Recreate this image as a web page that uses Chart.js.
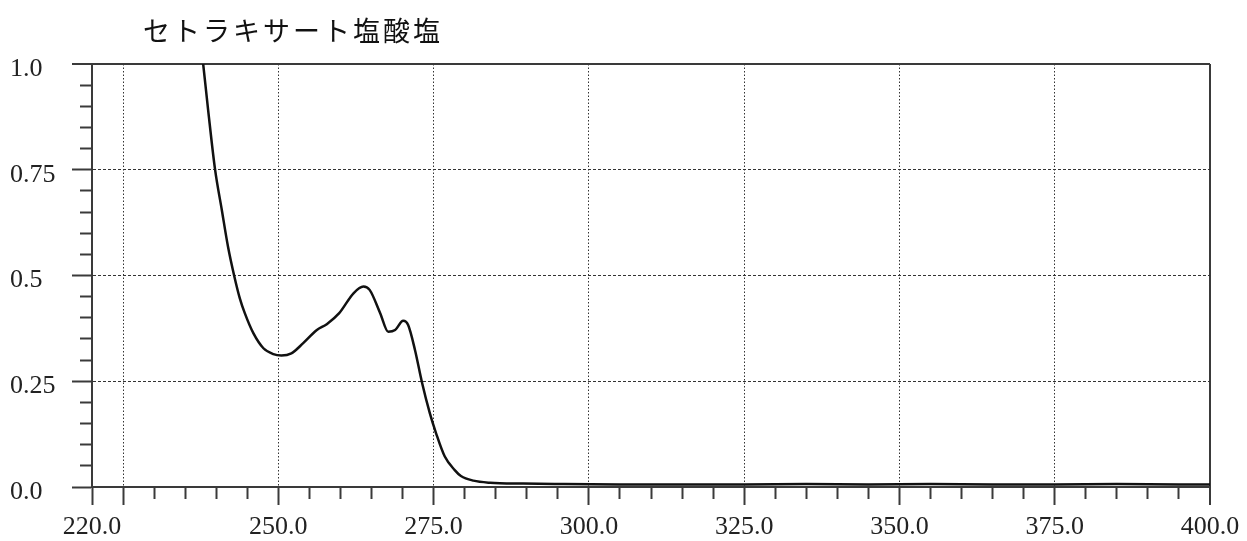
<!DOCTYPE html>
<html>
<head>
<meta charset="utf-8">
<script src="https://cdn.jsdelivr.net/npm/chart.js@4/dist/chart.umd.min.js"></script>
<style>
  body { margin: 0; background: #fff; }
  #wrap { position: relative; width: 1247px; height: 541px; }
  #title {
    position: absolute; left: 143px; top: 12px;
    font-family: "Noto Sans CJK JP", sans-serif; font-size: 27px;
    letter-spacing: 3px; color: #111; line-height: 36px;
  }
</style>
</head>
<body>
<div id="wrap">
  <div id="title">セトラキサート塩酸塩</div>
  <canvas id="chart"></canvas>
</div>
<script>
// absorbance spectrum
const wavelengths = [236, 237, 237.9, 238.7, 239.8, 240.9, 241.9, 242.9, 243.8, 244.6, 246.0, 247.6, 249.2, 250.5,
  252.1, 254.0, 256.2, 257.8, 259.8, 262.1, 263.7, 264.7, 266.4, 267.7, 268.8, 270.1, 270.9, 272.0, 273.1,
  274.4, 275.4, 276.8, 278.4, 279.4, 281.4, 284.1, 289.4, 295, 305, 315, 325, 335, 345, 355, 365, 375, 385, 395, 400];
const absorbance = [1.25, 1.12, 1.0, 0.891, 0.752, 0.655, 0.568, 0.499, 0.446, 0.411, 0.363, 0.328, 0.314, 0.311,
  0.316, 0.340, 0.371, 0.385, 0.411, 0.458, 0.474, 0.466, 0.411, 0.367, 0.371, 0.393, 0.383, 0.324, 0.249,
  0.174, 0.127, 0.072, 0.040, 0.026, 0.015, 0.010, 0.008, 0.007, 0.006, 0.006, 0.006, 0.007, 0.006, 0.007, 0.006, 0.006, 0.007, 0.006, 0.006];

const xLabelValues = [220, 250, 275, 300, 325, 350, 375, 400];
const yLabelValues = [0, 0.25, 0.5, 0.75, 1.0];
const yLabelText = ['0.0', '0.25', '0.5', '0.75', '1.0'];

const AXIS = '#3a3a3a';
const GRID = '#333';
const labelFont = { family: '"Liberation Serif", serif', size: 26 };

const near = (a, b) => Math.abs(a - b) < 1e-6;
const isXGrid = v => v > 220 && near(v / 25, Math.round(v / 25));
const isXMajor = v => near(v, 220) || isXGrid(v);
const isYMajor = v => near(v * 4, Math.round(v * 4));

new Chart(document.getElementById('chart'), {
  type: 'line',
  data: {
    datasets: [{
      data: wavelengths.map((w, i) => ({ x: w, y: absorbance[i] })),
      borderColor: '#111',
      borderWidth: 2.5,
      pointRadius: 0,
      cubicInterpolationMode: 'monotone'
    }]
  },
  options: {
    responsive: true,
    maintainAspectRatio: false,
    animation: false,
    layout: { padding: { top: 64, right: 37, left: 10, bottom: 0 } },
    plugins: { legend: { display: false }, tooltip: { enabled: false } },
    scales: {
      x: {
        type: 'linear', min: 220, max: 400,
        afterFit: s => { s.height = 54; },
        ticks: {
          stepSize: 5, autoSkip: false, maxRotation: 0, padding: 7,
          font: labelFont, color: '#222',
          callback: v => xLabelValues.some(l => near(l, v)) ? v.toFixed(1) : ''
        },
        grid: {
          tickLength: 18,
          color: c => near(c.tick.value, 400) ? AXIS : (isXGrid(c.tick.value) ? GRID : 'rgba(0,0,0,0)'),
          lineWidth: c => near(c.tick.value, 400) ? 2 : 1,
          tickColor: AXIS, tickWidth: 2,
          tickBorderDash: c => isXMajor(c.tick.value) ? [] : [11, 60]
        },
        border: {
          color: AXIS, width: 2,
          dash: c => near(c.tick.value, 400) ? [] : [1.5, 2]
        }
      },
      y: {
        min: 0, max: 1,
        afterFit: s => { s.width = 82; },
        ticks: {
          stepSize: 0.05, autoSkip: false, crossAlign: 'far', padding: 0, labelOffset: 5,
          font: labelFont, color: '#222',
          callback: v => {
            const i = yLabelValues.findIndex(l => near(l, v));
            return i >= 0 ? yLabelText[i] : '';
          }
        },
        grid: {
          tickLength: 20,
          color: c => near(c.tick.value, 1) ? AXIS : (isYMajor(c.tick.value) && c.tick.value > 0 ? GRID : 'rgba(0,0,0,0)'),
          lineWidth: c => near(c.tick.value, 1) ? 2 : 1,
          tickColor: AXIS, tickWidth: 2,
          tickBorderDash: c => isYMajor(c.tick.value) ? [] : [12, 60],
          tickBorderDashOffset: 64
        },
        border: {
          color: AXIS, width: 2,
          dash: c => near(c.tick.value, 1) ? [] : [3, 2]
        }
      }
    }
  }
});
</script>
</body>
</html>
